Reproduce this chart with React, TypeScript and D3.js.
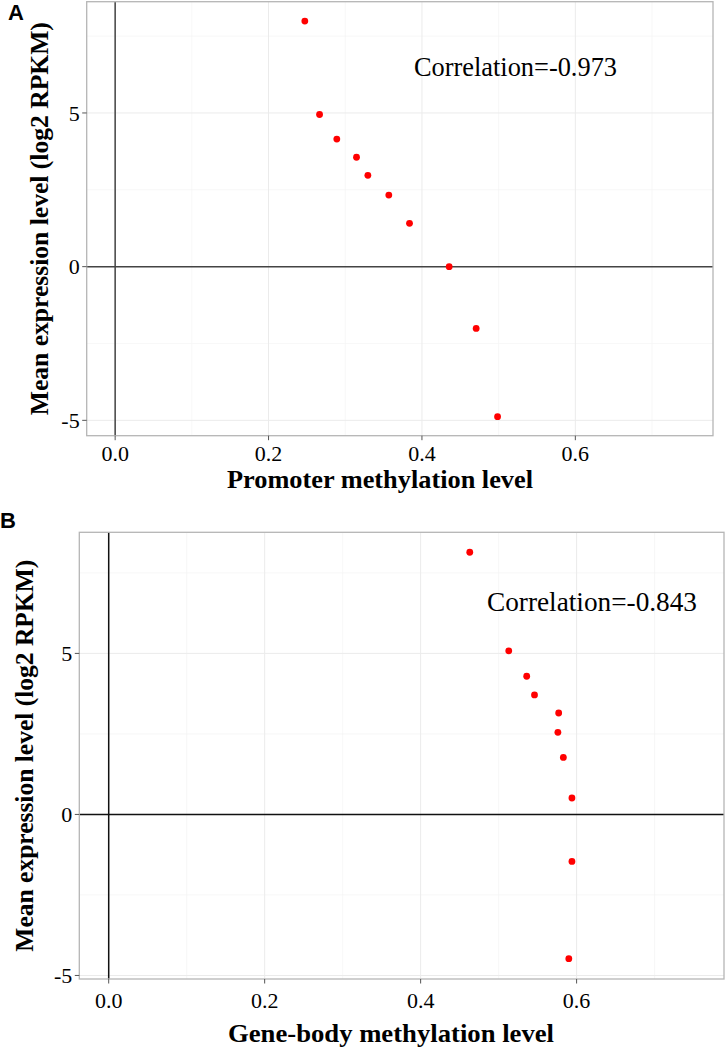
import React from "react";
import * as d3 from "d3";

// ---- data ----
const promoterX = [0.2473, 0.2665, 0.289, 0.3147, 0.3295, 0.3568, 0.3838, 0.4355, 0.4707, 0.4986];
const promoterY = [7.99, 4.95, 4.15, 3.56, 2.97, 2.33, 1.41, 0.0, -2.01, -4.88];
const geneBodyX = [0.463, 0.513, 0.536, 0.546, 0.577, 0.576, 0.583, 0.594, 0.594, 0.59];
const geneBodyY = [8.14, 5.08, 4.29, 3.71, 3.15, 2.55, 1.77, 0.51, -1.46, -4.48];
const xTicks = [0, 0.2, 0.4, 0.6];
const xMinor = [0.1, 0.3, 0.5, 0.7];
const yTicks = [-5, 0, 5];
const yMinor = [-2.5, 2.5, 7.5];
const corrA = "Correlation=-0.973";
const corrB = "Correlation=-0.843";
const yTitle = "Mean expression level (log2 RPKM)";
const xTitleA = "Promoter methylation level";
const xTitleB = "Gene-body methylation level";

type PanelProps = {
  xs: number[];
  ys: number[];
  xDomain: [number, number];
  yDomain: [number, number];
  left: number;
  right: number;
  top: number;
  bottom: number;
  label: string;
  labelX: number;
  labelY: number;
  corr: string;
  corrX: number;
  corrY: number;
  corrLen: number;
  xTitle: string;
  xTitleX: number;
  xTitleY: number;
  xTitleLen: number;
  yTitleX: number;
  yTitleLen: number;
  xLabelY: number;
  zeroColor: string;
};

const serif = "'Liberation Serif', 'Times New Roman', serif";

function Panel(p: PanelProps) {
  const x = d3.scaleLinear().domain(p.xDomain).range([p.left, p.right]);
  const y = d3.scaleLinear().domain(p.yDomain).range([p.bottom, p.top]);
  const fmt = d3.format(".1f");
  const cy = (p.top + p.bottom) / 2;
  return (
    <g>
      {/* minor grid */}
      {xMinor.map((v) => (
        <line key={"xm" + v} x1={x(v)} x2={x(v)} y1={p.top} y2={p.bottom} stroke="#F3F3F3" strokeWidth={0.7} />
      ))}
      {yMinor.map((v) => (
        <line key={"ym" + v} x1={p.left} x2={p.right} y1={y(v)} y2={y(v)} stroke="#F3F3F3" strokeWidth={0.7} />
      ))}
      {/* major grid */}
      {xTicks.map((v) => (
        <line key={"xg" + v} x1={x(v)} x2={x(v)} y1={p.top} y2={p.bottom} stroke="#EBEBEB" strokeWidth={1} />
      ))}
      {yTicks.map((v) => (
        <line key={"yg" + v} x1={p.left} x2={p.right} y1={y(v)} y2={y(v)} stroke="#EBEBEB" strokeWidth={1} />
      ))}
      {/* zero lines */}
      <line x1={p.left} x2={p.right} y1={y(0)} y2={y(0)} stroke={p.zeroColor} strokeWidth={1.5} />
      <line x1={x(0)} x2={x(0)} y1={p.top} y2={p.bottom} stroke={p.zeroColor} strokeWidth={1.5} />
      {/* points */}
      {p.xs.map((v, i) => (
        <circle key={"pt" + i} cx={x(v)} cy={y(p.ys[i])} r={3.4} fill="#FF0000" />
      ))}
      {/* panel border */}
      <rect x={p.left} y={p.top} width={p.right - p.left} height={p.bottom - p.top} fill="none" stroke="#B5B5B5" strokeWidth={1.3} />
      {/* ticks */}
      {xTicks.map((v) => (
        <g key={"xt" + v}>
          <line x1={x(v)} x2={x(v)} y1={p.bottom} y2={p.bottom + 4.5} stroke="#555" strokeWidth={1} />
          <text x={x(v)} y={p.xLabelY} textAnchor="middle" fontFamily={serif} fontSize={22} fill="#000">
            {fmt(v)}
          </text>
        </g>
      ))}
      {yTicks.map((v) => (
        <g key={"yt" + v}>
          <line x1={p.left - 4.5} x2={p.left} y1={y(v)} y2={y(v)} stroke="#555" strokeWidth={1} />
          <text x={p.left - 7} y={y(v)} dy="0.35em" textAnchor="end" fontFamily={serif} fontSize={22} fill="#000">
            {String(v)}
          </text>
        </g>
      ))}
      {/* correlation */}
      <text x={p.corrX} y={p.corrY} textAnchor="middle" fontFamily={serif} fontSize={26.5} fill="#000"
        textLength={p.corrLen} lengthAdjust="spacingAndGlyphs">
        {p.corr}
      </text>
      {/* axis titles */}
      <text x={p.xTitleX} y={p.xTitleY} textAnchor="middle" fontFamily={serif} fontWeight="bold" fontSize={26}
        fill="#000" textLength={p.xTitleLen} lengthAdjust="spacingAndGlyphs">
        {p.xTitle}
      </text>
      <text transform={`translate(${p.yTitleX},${cy}) rotate(-90)`} textAnchor="middle" fontFamily={serif}
        fontWeight="bold" fontSize={26} fill="#000" textLength={p.yTitleLen} lengthAdjust="spacingAndGlyphs">
        {yTitle}
      </text>
      {/* panel letter */}
      <text x={p.labelX} y={p.labelY} fontFamily="'Liberation Sans', Arial, sans-serif" fontWeight="bold"
        fontSize={22} fill="#000">
        {p.label}
      </text>
    </g>
  );
}

export default function App() {
  return (
    <svg width={726} height={1049} style={{ position: "absolute", left: 0, top: 0, background: "#fff" }}>
      <rect x={0} y={0} width={726} height={1049} fill="#fff" />
      <Panel
        xs={promoterX}
        ys={promoterY}
        xDomain={[-0.0371, 0.7795]}
        yDomain={[-5.5, 8.62]}
        left={86.7}
        right={713}
        top={1.7}
        bottom={435.7}
        label="A"
        labelX={8}
        labelY={20}
        corr={corrA}
        corrX={515.5}
        corrY={76}
        corrLen={203}
        xTitle={xTitleA}
        xTitleX={380}
        xTitleY={488}
        xTitleLen={306}
        yTitleX={48}
        yTitleLen={393}
        xLabelY={461}
        zeroColor="#444"
      />
      <Panel
        xs={geneBodyX}
        ys={geneBodyY}
        xDomain={[-0.0377, 0.789]}
        yDomain={[-5.11, 8.76]}
        left={79.3}
        right={724}
        top={532.3}
        bottom={979}
        label="B"
        labelX={0}
        labelY={528}
        corr={corrB}
        corrX={592}
        corrY={611}
        corrLen={210}
        xTitle={xTitleB}
        xTitleX={391}
        xTitleY={1042}
        xTitleLen={326}
        yTitleX={33}
        yTitleLen={392}
        xLabelY={1008}
        zeroColor="#111"
      />
    </svg>
  );
}
